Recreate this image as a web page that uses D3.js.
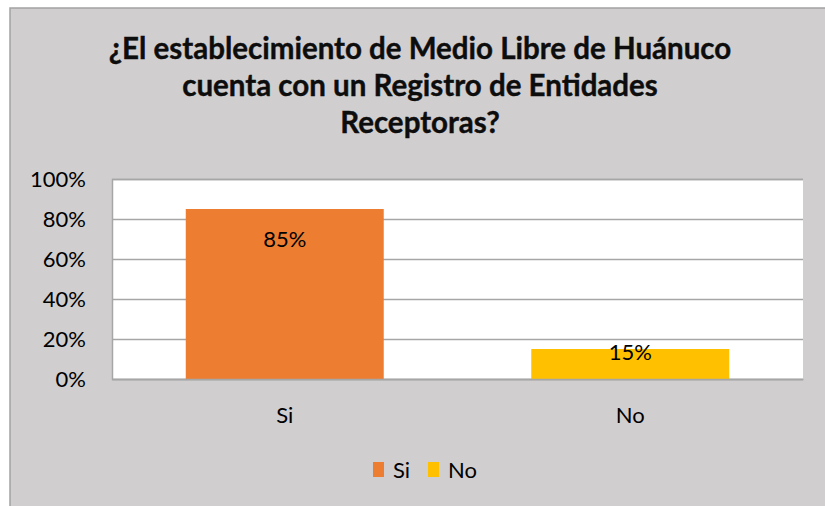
<!DOCTYPE html>
<html>
<head>
<meta charset="utf-8">
<script src="https://cdnjs.cloudflare.com/ajax/libs/d3/7.8.5/d3.min.js"></script>
<style>
  body { margin: 0; background: #fff; }
  svg { display: block; font-family: Lato, "Open Sans", sans-serif; }
</style>
</head>
<body>
<svg id="chart" width="825" height="506"></svg>
<script>
// data
const categories = ["Si", "No"];
const values = [0.85, 0.15];
const colors = ["#ed7d31", "#ffc000"];
const yTicks = [0, 0.2, 0.4, 0.6, 0.8, 1];
const titleLines = [
    "¿El establecimiento de Medio Libre de Huánuco",
    "cuenta con un Registro de Entidades",
    "Receptoras?"
];

const svg = d3.select("#chart");

// chart area with grey background and border
svg.append("rect")
    .attr("x", 10).attr("y", 8)
    .attr("width", 830).attr("height", 520)
    .attr("fill", "#d0cecf")
    .attr("stroke", "#a3a3a3")
    .attr("stroke-width", 1.5);

// title
svg.append("g").selectAll("text")
    .data(titleLines)
    .enter()
    .append("text")
    .attr("x", 420)
    .attr("y", (d, i) => 59 + i * 37)
    .attr("text-anchor", "middle")
    .attr("font-size", "29.5px")
    .attr("font-weight", "bold")
    .attr("fill", "#0d0d0d")
    .attr("stroke", "#0d0d0d")
    .attr("stroke-width", 0.4)
    .text(d => d);

const plot = {left: 112, right: 803, top: 179, bottom: 379};

const x = d3.scaleBand()
    .domain(categories)
    .range([plot.left, plot.right])
    .paddingInner(0.427)
    .paddingOuter(0.2135);

const y = d3.scaleLinear()
    .domain([0, 1])
    .range([plot.bottom, plot.top]);

// plot background
svg.append("rect")
    .attr("x", plot.left).attr("y", plot.top)
    .attr("width", plot.right - plot.left)
    .attr("height", plot.bottom - plot.top)
    .attr("fill", "#fff");

// gridlines + y labels through an axis
const yAxis = d3.axisLeft(y)
    .tickValues(yTicks)
    .tickSize(-(plot.right - plot.left))
    .tickPadding(26)
    .tickFormat(d3.format(".0%"));

const gy = svg.append("g")
    .attr("transform", "translate(" + plot.left + ",0)")
    .call(yAxis);
gy.select(".domain").attr("stroke", "#a6a6a6").attr("stroke-width", 1.5);
gy.selectAll(".tick line").attr("stroke", "#a6a6a6").attr("stroke-width", 1.5);
gy.selectAll(".tick text")
    .attr("font-size", "22px")
    .attr("font-family", "Lato, sans-serif")
    .attr("fill", "#000");

// bars
svg.selectAll(".bar")
    .data(values)
    .enter()
    .append("rect")
    .attr("class", "bar")
    .attr("x", (d, i) => x(categories[i]))
    .attr("y", d => y(d))
    .attr("width", x.bandwidth())
    .attr("height", d => y(0) - y(d))
    .attr("fill", (d, i) => colors[i]);

// x axis
const gx = svg.append("g")
    .attr("transform", "translate(0," + plot.bottom + ")")
    .call(d3.axisBottom(x).tickSize(0).tickPadding(28));
gx.select(".domain").attr("stroke", "#a6a6a6").attr("stroke-width", 1.5);
gx.selectAll(".tick text")
    .attr("font-size", "22px")
    .attr("font-family", "Lato, sans-serif")
    .attr("fill", "#000");

// data labels
svg.selectAll(".bar_label")
    .data(values)
    .enter()
    .append("text")
    .attr("class", "bar_label")
    .attr("x", (d, i) => x(categories[i]) + x.bandwidth() / 2)
    .attr("y", d => Math.min(y(d) + 38, y(0) - 19))
    .attr("text-anchor", "middle")
    .attr("font-size", "22px")
    .attr("fill", "#000")
    .text(d => d3.format(".0%")(d));

// legend
const legendX = [373, 428];
const legend = svg.append("g").selectAll("g")
    .data(categories)
    .enter()
    .append("g")
    .attr("transform", (d, i) => "translate(" + legendX[i] + ",462)");
legend.append("rect")
    .attr("width", 11).attr("height", 15)
    .attr("fill", (d, i) => colors[i]);
legend.append("text")
    .attr("x", 20).attr("y", 16)
    .attr("font-size", "22px")
    .attr("fill", "#000")
    .text(d => d);
</script>
</body>
</html>
